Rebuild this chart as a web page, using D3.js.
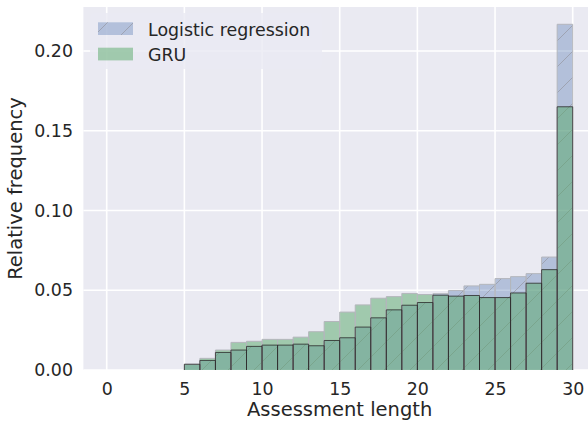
<!DOCTYPE html>
<html>
<head>
<meta charset="utf-8">
<script src="https://cdn.jsdelivr.net/npm/d3@7"></script>
<style>
  body { margin: 0; background: #fff; }
  svg { display: block; font-family: "DejaVu Sans", sans-serif; }
</style>
</head>
<body>
<div id="view"></div>
<script>
// histogram bins (left edges, width 1)
const binStarts = [5, 6, 7, 8, 9, 10, 11, 12, 13, 14, 15, 16, 17, 18, 19, 20, 21, 22, 23, 24, 25, 26, 27, 28, 29];
const logistic = [0.0036, 0.0060, 0.0110, 0.0125, 0.0148, 0.0156, 0.0156, 0.0162, 0.0152, 0.0185, 0.0202, 0.0269, 0.0327,
                  0.0377, 0.0406, 0.0423, 0.0478, 0.0498, 0.0527, 0.0537, 0.0573, 0.0585, 0.0604, 0.0708, 0.2167];
const gru = [0.0036, 0.0073, 0.0125, 0.0173, 0.0180, 0.0192, 0.0192, 0.0206, 0.0240, 0.0304, 0.0363, 0.0408, 0.0450,
             0.0460, 0.0480, 0.0473, 0.0469, 0.0463, 0.0467, 0.0454, 0.0454, 0.0483, 0.0544, 0.0629, 0.1650];
const seriesNames = ["Logistic regression", "GRU"];
const xTicks = [0, 5, 10, 15, 20, 25, 30];
const yTicks = [0, 0.05, 0.10, 0.15, 0.20];

const W = 588, H = 424;
const blue = "#4C72B0", green = "#55A868";

const svg = d3.select("#view").append("svg")
    .attr("width", W).attr("height", H);

const x = d3.scaleLinear().domain([-1.5, 31.5]).range([83.4, 596]);
const yMax = d3.max([...logistic, ...gru]) * 1.05;
const y = d3.scaleLinear().domain([0, yMax]).range([370, 7]);

// hatch pattern for the logistic regression bars
const defs = svg.append("defs");
const hatch = defs.append("pattern")
    .attr("id", "hatch")
    .attr("patternUnits", "userSpaceOnUse")
    .attr("width", 26).attr("height", 26);
hatch.append("path")
    .attr("d", "M-2,28 L28,-2 M-8,8 L8,-8 M18,34 L34,18")
    .attr("stroke", "#8f8f98")
    .attr("stroke-opacity", 0.6)
    .attr("stroke-width", 1);

// plot background
svg.append("rect")
    .attr("x", x(-1.5)).attr("y", y(yMax))
    .attr("width", x(31.5) - x(-1.5)).attr("height", y(0) - y(yMax))
    .attr("fill", "#EAEAF2");

// grid
svg.append("g").selectAll("line").data(xTicks).join("line")
    .attr("x1", d => x(d)).attr("x2", d => x(d))
    .attr("y1", y(yMax)).attr("y2", y(0))
    .attr("stroke", "#fff").attr("stroke-width", 1.6);
svg.append("g").selectAll("line").data(yTicks).join("line")
    .attr("x1", x(-1.5)).attr("x2", x(31.5))
    .attr("y1", d => y(d)).attr("y2", d => y(d))
    .attr("stroke", "#fff").attr("stroke-width", 1.6);

const bins = binStarts.map((b, i) => ({x0: b, x1: b + 1, lr: logistic[i], gru: gru[i]}));

// logistic regression bars
const lrG = svg.append("g");
lrG.selectAll("rect.fill").data(bins).join("rect")
    .attr("x", d => x(d.x0)).attr("width", d => x(d.x1) - x(d.x0))
    .attr("y", d => y(d.lr)).attr("height", d => y(0) - y(d.lr))
    .attr("fill", blue).attr("fill-opacity", 0.35);
lrG.selectAll("rect.hatch").data(bins).join("rect")
    .attr("x", d => x(d.x0)).attr("width", d => x(d.x1) - x(d.x0))
    .attr("y", d => y(d.lr)).attr("height", d => y(0) - y(d.lr))
    .attr("fill", "url(#hatch)");

// GRU bars
svg.append("g").selectAll("rect").data(bins).join("rect")
    .attr("x", d => x(d.x0)).attr("width", d => x(d.x1) - x(d.x0))
    .attr("y", d => y(d.gru)).attr("height", d => y(0) - y(d.gru))
    .attr("fill", green).attr("fill-opacity", 0.5);

// bar outlines: taller bar light, overlapping part dark (no bottom edge)
const outline = v => d => `M${x(d.x0)},${y(0)}V${y(v(d))}H${x(d.x1)}V${y(0)}`;
svg.append("g").selectAll("path").data(bins).join("path")
    .attr("d", outline(d => Math.max(d.lr, d.gru)))
    .attr("fill", "none").attr("stroke", "#b4b6bc").attr("stroke-width", 1);
svg.append("g").selectAll("path").data(bins).join("path")
    .attr("d", outline(d => Math.min(d.lr, d.gru)))
    .attr("fill", "none").attr("stroke", "#2a2a2a").attr("stroke-opacity", 0.8).attr("stroke-width", 1);

// axes
const xAxis = svg.append("g")
    .attr("transform", `translate(0,${y(0)})`)
    .call(d3.axisBottom(x).tickValues(xTicks).tickSize(0).tickPadding(13));
const yAxis = svg.append("g")
    .attr("transform", `translate(${x(-1.5)},0)`)
    .call(d3.axisLeft(y).tickValues(yTicks).tickFormat(d3.format(".2f")).tickSize(0).tickPadding(10.4));
[xAxis, yAxis].forEach(a => {
    a.select(".domain").remove();
    a.selectAll("text")
        .attr("font-family", "DejaVu Sans")
        .attr("font-size", 17.4)
        .attr("fill", "#262626");
});

svg.append("text")
    .attr("x", (x(-1.5) + x(31.5)) / 2).attr("y", 416)
    .attr("text-anchor", "middle")
    .attr("font-size", 19.5).attr("fill", "#262626")
    .text("Assessment length");
svg.append("text")
    .attr("transform", `translate(22,${(y(0) + y(yMax)) / 2}) rotate(-90)`)
    .attr("text-anchor", "middle")
    .attr("font-size", 19.5).attr("fill", "#262626")
    .text("Relative frequency");

// legend
const legend = svg.append("g");
legend.append("rect")
    .attr("x", 90).attr("y", 13).attr("width", 232).attr("height", 56).attr("rx", 4)
    .attr("fill", "#EAEAF2").attr("fill-opacity", 0.8);
const items = [
    {name: seriesNames[0], color: blue, alpha: 0.35, hatch: true},
    {name: seriesNames[1], color: green, alpha: 0.5, hatch: false}
];
items.forEach((it, i) => {
    const ly = 22.3 + i * 25.4;
    legend.append("rect")
        .attr("x", 98).attr("y", ly).attr("width", 35).attr("height", 12.7)
        .attr("fill", it.color).attr("fill-opacity", it.alpha);
    if (it.hatch) {
        legend.append("rect")
            .attr("x", 98).attr("y", ly).attr("width", 35).attr("height", 12.7)
            .attr("fill", "url(#hatch)");
    }
    legend.append("text")
        .attr("x", 148).attr("y", ly + 13.2)
        .attr("font-size", 17.4).attr("fill", "#262626")
        .text(it.name);
});
</script>
</body>
</html>
